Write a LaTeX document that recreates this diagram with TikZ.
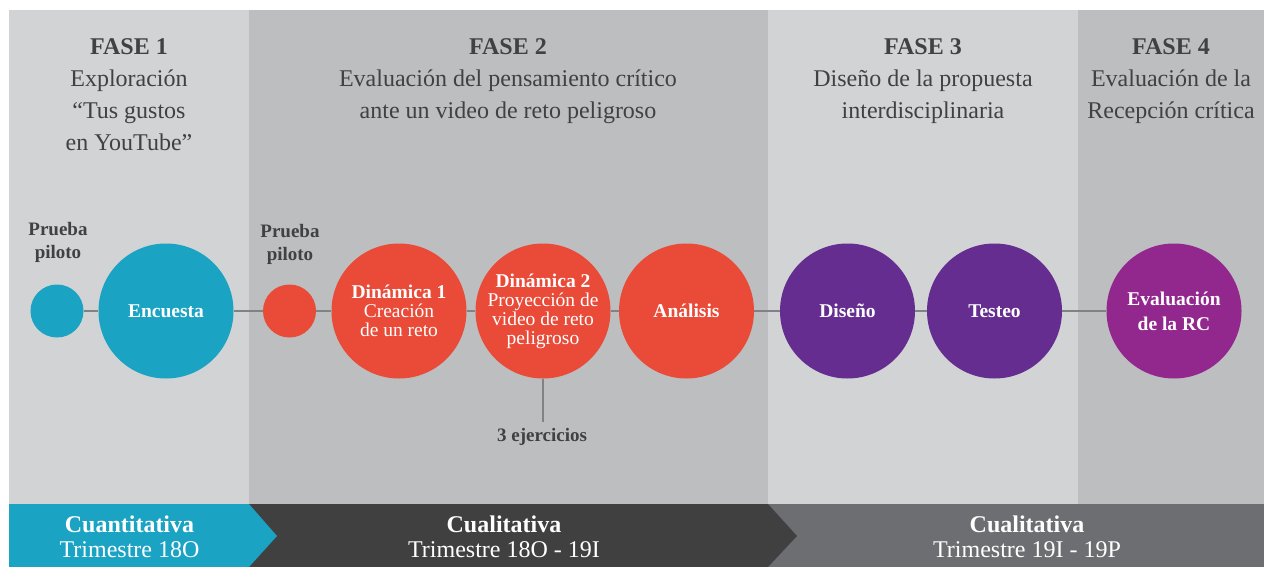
\documentclass[tikz,border=0pt]{standalone}
\usepackage{fontspec}
\setmainfont{Liberation Serif}
\definecolor{panelA}{HTML}{D1D3D4}
\definecolor{panelB}{HTML}{BCBEC0}
\definecolor{cyanC}{HTML}{1BA3C4}
\definecolor{redC}{HTML}{E94B38}
\definecolor{purpC}{HTML}{652D8F}
\definecolor{magC}{HTML}{92278E}
\definecolor{darkband}{HTML}{404041}
\definecolor{grayband}{HTML}{6D6E71}
\definecolor{txt}{HTML}{414042}
\definecolor{linkC}{HTML}{808285}
\tikzset{
  header/.style={anchor=north, inner sep=0pt, align=center, text=txt,
    font=\fontsize{24}{32}\selectfont},
  bandtext/.style={anchor=north, inner sep=0pt, align=center, text=white,
    font=\fontsize{24}{25}\selectfont},
  smalllabel/.style={anchor=north, inner sep=0pt, align=center, text=txt,
    font=\fontsize{19}{23}\selectfont\bfseries},
  bigdot/.style={circle, minimum size=135pt, inner sep=0pt, align=center, text=white,
    font=\fontsize{19.5}{19}\selectfont},
  smalldot/.style={circle, minimum size=53pt, inner sep=0pt},
  link/.style={draw=linkC, line width=1.3pt}
}
\begin{document}
\begin{tikzpicture}[x=1pt,y=-1pt]
\useasboundingbox (0,0) rectangle (1264,567);
\fill[white] (0,0) rectangle (1264,567);
% panels
\fill[panelA] (9,10) rectangle (249,504);
\fill[panelB] (249,10) rectangle (768,504);
\fill[panelA] (768,10) rectangle (1078,504);
\fill[panelB] (1078,10) rectangle (1264,504);
% bottom band
\fill[grayband] (768,504) rectangle (1264,567);
\fill[darkband] (249,504) -- (768,504) -- (797,536) -- (768,567) -- (249,567) -- cycle;
\fill[cyanC] (9,504) -- (249,504) -- (277,536) -- (249,567) -- (9,567) -- cycle;
% headers
\node[header] (h1) at (129,38) {\textbf{FASE 1}\\Exploración\\“Tus gustos\\en YouTube”};
\node[header] (h2) at (508,38) {\textbf{FASE 2}\\Evaluación del pensamiento crítico\\ante un video de reto peligroso};
\node[header] (h3) at (923,38) {\textbf{FASE 3}\\Diseño de la propuesta\\interdisciplinaria};
\node[header] (h4) at (1171,38) {\textbf{FASE 4}\\Evaluación de la\\Recepción crítica};
% band texts
\node[bandtext] (b1) at (129.5,515.5) {\textbf{Cuantitativa}\\Trimestre 18O};
\node[bandtext] (b2) at (504,515.5) {\textbf{Cualitativa}\\Trimestre 18O - 19I};
\node[bandtext] (b3) at (1027,515.5) {\textbf{Cualitativa}\\Trimestre 19I - 19P};
% circles
\node[smalldot, fill=cyanC] (p1) at (57,311) {};
\node[bigdot, fill=cyanC] (enc) at (166,311) {\textbf{Encuesta}};
\node[smalldot, fill=redC] (p2) at (289.5,311) {};
\node[bigdot, fill=redC] (d1) at (399,311) {\textbf{Dinámica 1}\\Creación\\de un reto};
\node[bigdot, fill=redC] (d2) at (543,311) {\textbf{Dinámica 2}\\Proyección de\\video de reto\\peligroso};
\node[bigdot, fill=redC] (an) at (686.5,311) {\textbf{Análisis}};
\node[bigdot, fill=purpC] (dis) at (847.5,311) {\textbf{Diseño}};
\node[bigdot, fill=purpC] (tes) at (994.5,311) {\textbf{Testeo}};
\node[bigdot, fill=magC, font=\fontsize{19.5}{25}\selectfont] (rc) at (1174,311) {\textbf{Evaluación}\\\textbf{de la RC}};
% connectors
\draw[link] (p1) -- (enc);
\draw[link] (enc) -- (p2);
\draw[link] (p2) -- (d1);
\draw[link] (d1) -- (d2);
\draw[link] (d2) -- (an);
\draw[link] (an) -- (dis);
\draw[link] (dis) -- (tes);
\draw[link] (tes) -- (rc);
% labels
\node[smalllabel] (pl1) at (58,222) {Prueba\\piloto};
\node[smalllabel] (pl2) at (290,224) {Prueba\\piloto};
\coordinate (ej) at (543,422);
\draw[link] (d2.south) -- (ej);
\node[smalllabel, anchor=base] (ejl) at (542,441) {3 ejercicios};
\end{tikzpicture}
\end{document}
